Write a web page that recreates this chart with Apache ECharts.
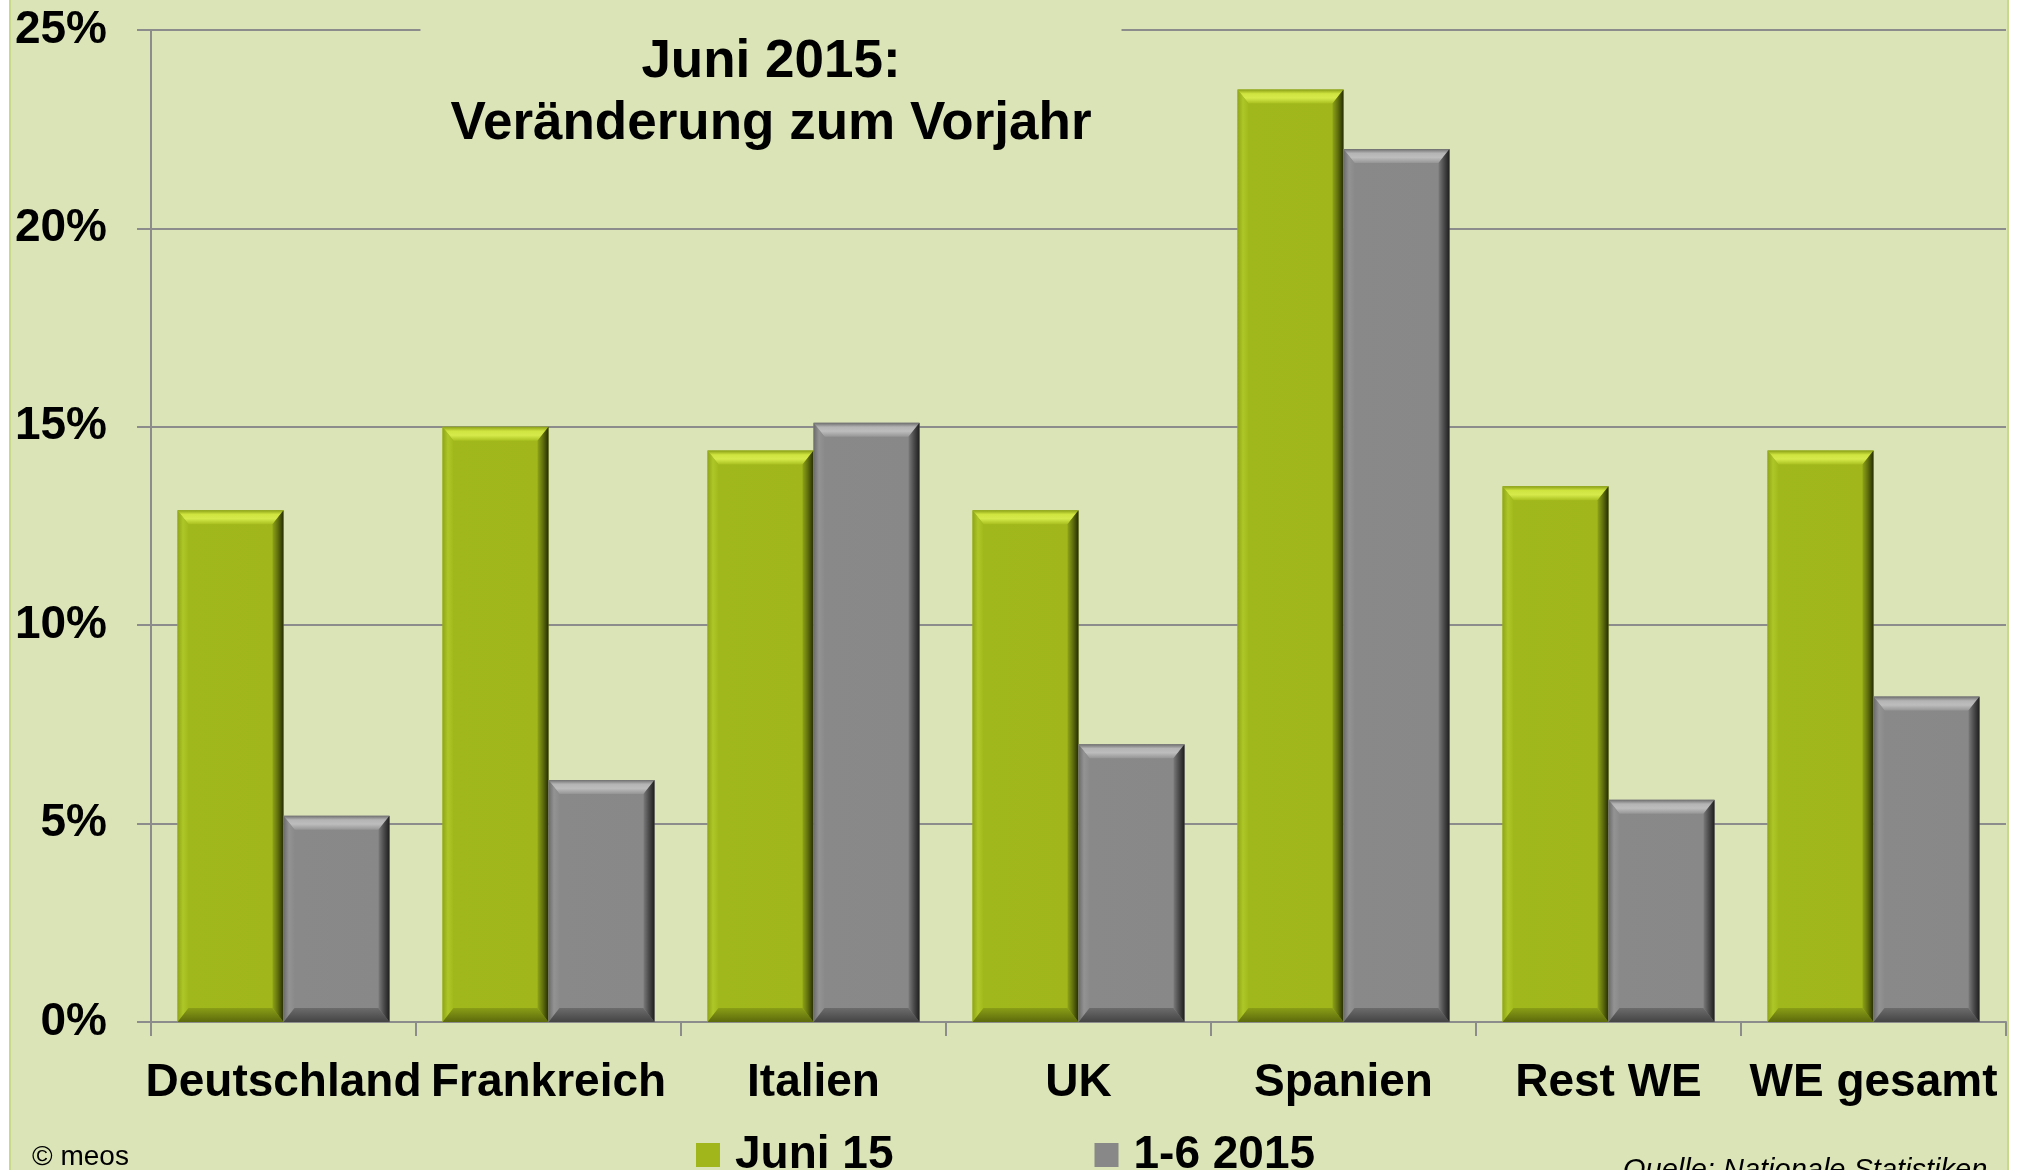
<!DOCTYPE html>
<html>
<head>
<meta charset="utf-8">
<script src="https://cdn.jsdelivr.net/npm/echarts@6/dist/echarts.min.js"></script>
<style>
  html, body { margin: 0; padding: 0; background: #ffffff; }
  #chart { width: 2021px; height: 1170px; }
</style>
</head>
<body>
<div id="chart"></div>
<script>
// data (percent change vs. previous year)
var categories = ['Deutschland', 'Frankreich', 'Italien', 'UK', 'Spanien', 'Rest WE', 'WE gesamt'];
var juni15 = [12.9, 15.0, 14.4, 12.9, 23.5, 13.5, 14.4];
var jan_jun15 = [5.2, 6.1, 15.1, 7.0, 22.0, 5.6, 8.2];
var seriesNames = ['Juni 15', '1-6 2015'];
var yTicks = { min: 0, max: 25, interval: 5 };

var font = '"Liberation Sans", Arial, sans-serif';
var bg = '#dae4b7';
var gridColor = '#8c8c8c';

function lin(x2, y2, stops) {
  return {
    type: 'linear', x: 0, y: 0, x2: x2, y2: y2,
    colorStops: stops.map(function (s) { return { offset: s[0], color: s[1] }; })
  };
}

// bevel colours for the two series
var greenPal = {
  body: lin(1, 0, [[0, '#a6be20'], [0.1, '#a1b81c'], [0.9, '#a0b61b'], [1, '#94a918']]),
  top: lin(0, 1, [[0, '#8a9f16'], [0.3, '#cfe43f'], [0.6, '#d6ea4c'], [1, '#a9c020']]),
  left: lin(1, 0, [[0, '#8fa418'], [0.5, '#aec727'], [1, '#a2b91c']]),
  right: lin(1, 0, [[0, '#8fa318'], [0.5, '#5f6e0d'], [1, '#262c04']]),
  bottom: lin(0, 1, [[0, '#8a9e16'], [1, '#5c6a0c']])
};
var grayPal = {
  body: lin(1, 0, [[0, '#8e8e8e'], [0.1, '#898989'], [0.9, '#888888'], [1, '#7e7e7e']]),
  top: lin(0, 1, [[0, '#6e6e6e'], [0.3, '#b4b4b4'], [0.6, '#bdbdbd'], [1, '#959595']]),
  left: lin(1, 0, [[0, '#6a6a6a'], [0.5, '#939393'], [1, '#8a8a8a']]),
  right: lin(1, 0, [[0, '#7a7a7a'], [0.5, '#4a4a4a'], [1, '#1e1e1e']]),
  bottom: lin(0, 1, [[0, '#6c6c6c'], [1, '#444444']])
};

function pairs(values) {
  return values.map(function (v, i) { return [i, v]; });
}

function bevelBar(pal, side) {
  return function (params, api) {
    var idx = api.value(0);
    var val = api.value(1);
    var p0 = api.coord([idx, 0]);
    var p1 = api.coord([idx, val]);
    var band = api.size([1, 0])[0];
    var w = band * 0.4;
    var x0 = side === 0 ? p0[0] - w : p0[0];
    var x1 = x0 + w;
    var yT = p1[1], yB = p0[1];
    var b = 11, bt = 14;
    return {
      type: 'group',
      children: [
        { type: 'rect', shape: { x: x0, y: yT, width: w, height: yB - yT }, style: { fill: pal.body } },
        { type: 'polygon', shape: { points: [[x0, yT], [x1, yT], [x1 - b, yT + bt], [x0 + b, yT + bt]] }, style: { fill: pal.top } },
        { type: 'polygon', shape: { points: [[x0, yT], [x0 + b, yT + bt], [x0 + b, yB - bt], [x0, yB]] }, style: { fill: pal.left } },
        { type: 'polygon', shape: { points: [[x0, yB], [x0 + b, yB - bt], [x1 - b, yB - bt], [x1, yB]] }, style: { fill: pal.bottom } },
        { type: 'polygon', shape: { points: [[x1, yT], [x1, yB], [x1 - b, yB - bt], [x1 - b, yT + bt]] }, style: { fill: pal.right } }
      ]
    };
  };
}

var myChart = echarts.init(document.getElementById('chart'));

var option = {
  backgroundColor: '#ffffff',
  animation: false,
  graphic: [
    {
      type: 'rect', z: -10, silent: true,
      shape: { x: 10, y: -2, width: 1998, height: 1180 },
      style: { fill: bg, stroke: '#c9d98a', lineWidth: 2 }
    },
    {
      type: 'text', left: 32, top: 1143, silent: true,
      style: { text: '\u00a9 meos', font: 'normal 28px ' + font, fill: '#000' }
    },
    {
      type: 'text', left: 1623, top: 1156, silent: true,
      style: { text: 'Quelle: Nationale Statistiken', font: 'italic 29px ' + font, fill: '#000' }
    }
  ],
  title: {
    text: 'Juni 2015:\nVeränderung zum Vorjahr',
    left: 741,
    top: 25,
    textAlign: 'center',
    padding: [6, 30, 6, 30],
    backgroundColor: bg,
    textStyle: {
      fontFamily: font,
      fontWeight: 'bold',
      fontSize: 53,
      lineHeight: 62,
      color: '#000'
    }
  },
  legend: {
    data: [
      { name: seriesNames[0], icon: 'rect' },
      { name: seriesNames[1], icon: 'rect' }
    ],
    left: 691,
    top: 1127,
    itemWidth: 24,
    itemHeight: 24,
    itemGap: 201,
    textStyle: {
      fontFamily: font,
      fontWeight: 'bold',
      fontSize: 46,
      color: '#000',
      padding: [0, 0, 0, 10]
    }
  },
  grid: {
    left: 151,
    right: 15,
    top: 30,
    bottom: 148,
    containLabel: false
  },
  xAxis: {
    type: 'category',
    data: categories,
    axisLine: { lineStyle: { color: gridColor, width: 2 } },
    axisTick: { show: true, length: 14, lineStyle: { color: gridColor, width: 2 } },
    axisLabel: {
      interval: 0,
      margin: 38,
      fontFamily: font,
      fontWeight: 'bold',
      fontSize: 46,
      color: '#000'
    }
  },
  yAxis: {
    type: 'value',
    min: yTicks.min,
    max: yTicks.max,
    interval: yTicks.interval,
    axisLine: { show: true, lineStyle: { color: gridColor, width: 2 } },
    axisTick: { show: true, length: 14, lineStyle: { color: gridColor, width: 2 } },
    splitLine: { show: true, lineStyle: { color: gridColor, width: 2 } },
    axisLabel: {
      formatter: '{value}%',
      margin: 44,
      fontFamily: font,
      fontWeight: 'bold',
      fontSize: 46,
      color: '#000'
    }
  },
  series: [
    {
      name: seriesNames[0],
      type: 'custom',
      renderItem: bevelBar(greenPal, 0),
      data: pairs(juni15),
      encode: { x: 0, y: 1 },
      itemStyle: { color: '#a0b61b' },
      z: 2
    },
    {
      name: seriesNames[1],
      type: 'custom',
      renderItem: bevelBar(grayPal, 1),
      data: pairs(jan_jun15),
      encode: { x: 0, y: 1 },
      itemStyle: { color: '#888888' },
      z: 2
    }
  ]
};

myChart.setOption(option);
</script>
</body>
</html>
